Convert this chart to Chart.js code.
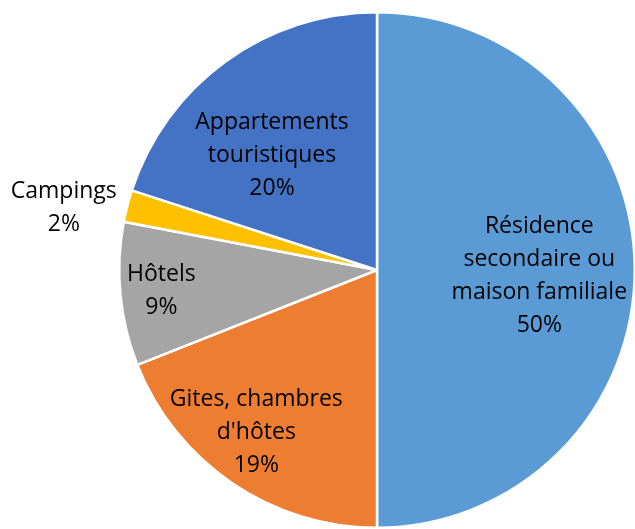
<!DOCTYPE html>
<html>
<head>
<meta charset="utf-8">
<script src="https://cdn.jsdelivr.net/npm/chart.js@4/dist/chart.umd.min.js"></script>
<style>
  html, body { margin: 0; padding: 0; background: #fff; overflow: hidden; width: 635px; height: 529px; }
  #wrap { position: absolute; left: 0; top: 0; width: 660px; height: 560px; }
</style>
</head>
<body>
<div id="wrap"><canvas id="chart" width="660" height="560"></canvas></div>
<script>
// Categories (label lines) and shares in percent, clockwise from 12 o'clock
const categories = [
  ['Résidence', 'secondaire ou', 'maison familiale'],
  ['Gites, chambres', "d'hôtes"],
  ['Hôtels'],
  ['Campings'],
  ['Appartements', 'touristiques']
];
const shares = [50, 19, 9, 2, 20];
const sliceColors = ['#5B9BD5', '#ED7D31', '#A5A5A5', '#FFC000', '#4472C4'];

// Label placement: fraction of the radius and angular nudge (degrees)
const labelRadius = [0.63, 0.78, 0.84, 1.24, 0.61];
const labelNudge = [1.4, 2.7, 0.4, -2.9, -5.9];

const sliceLabels = {
  id: 'sliceLabels',
  afterDatasetsDraw(chart) {
    const ctx = chart.ctx;
    const meta = chart.getDatasetMeta(0);
    const values = chart.data.datasets[0].data;
    ctx.save();
    ctx.font = '23px "Open Sans", Lato, sans-serif';
    ctx.fillStyle = '#000';
    ctx.textAlign = 'center';
    ctx.textBaseline = 'middle';
    const lh = 33;
    meta.data.forEach((arc, i) => {
      const p = arc.getProps(['x', 'y', 'startAngle', 'endAngle', 'outerRadius'], true);
      const mid = (p.startAngle + p.endAngle) / 2 + labelNudge[i] * Math.PI / 180;
      const r = p.outerRadius * labelRadius[i];
      const cx = p.x + Math.cos(mid) * r;
      const cy = p.y + Math.sin(mid) * r + 2;
      const lines = chart.data.labels[i].concat([values[i] + '%']);
      const top = cy - (lines.length - 1) * lh / 2;
      lines.forEach((t, k) => ctx.fillText(t, cx, top + k * lh));
    });
    ctx.restore();
  }
};

new Chart(document.getElementById('chart'), {
  type: 'pie',
  data: {
    labels: categories,
    datasets: [{
      data: shares,
      backgroundColor: sliceColors,
      borderColor: '#ffffff',
      borderWidth: 2.5
    }]
  },
  options: {
    responsive: false,
    animation: false,
    layout: { padding: { left: 118, top: 11, right: 24, bottom: 31 } },
    plugins: {
      legend: { display: false },
      tooltip: { enabled: false }
    }
  },
  plugins: [sliceLabels]
});
</script>
</body>
</html>
